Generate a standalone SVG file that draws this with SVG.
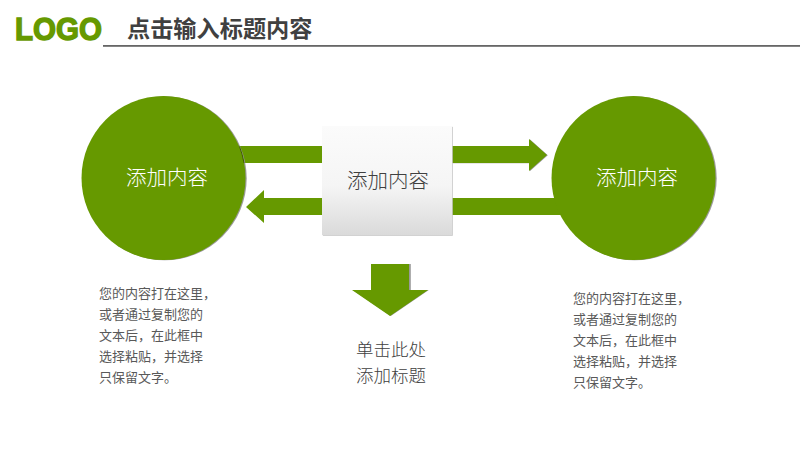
<svg xmlns="http://www.w3.org/2000/svg" width="800" height="450" viewBox="0 0 800 450">
<style>
text{font-family:"Noto Sans CJK SC","Liberation Sans",sans-serif}
.g{fill:#669900}
.s{fill:#9a9a9a}
.c{fill:#fff;font-size:20.500px;text-anchor:middle;font-weight:300}
.d{fill:#404040;font-size:20.500px;text-anchor:middle;font-weight:300}
.b{fill:#595959;font-size:13px;font-weight:400}
.t{fill:#404040;font-size:17.500px;font-weight:300}
</style>
<defs>
<linearGradient id="box" x1="0" y1="0" x2="0" y2="1">
<stop offset="0" stop-color="#fbfbfb"/>
<stop offset="0.55" stop-color="#f5f5f5"/>
<stop offset="1" stop-color="#dadada"/>
</linearGradient>
</defs>
<rect width="800" height="450" fill="#fff"/>
<g id="header">
<text x="15" y="40" font-size="31" font-weight="700" fill="#669900" stroke="#669900" stroke-width="1.400" style="font-family:'Liberation Sans',sans-serif" textLength="87" lengthAdjust="spacingAndGlyphs">LOGO</text>
<text x="127" y="37" font-size="23.200" font-weight="700" fill="#404040" style="font-family:'Noto Sans CJK SC',sans-serif">点击输入标题内容</text>
<rect x="103" y="45" width="697" height="1.800" fill="#666"/>
</g>
<g id="connectors">
<path d="M240 146H322V163H240Z" class="g"/>
<path d="M322 198H264V190L246 207L264 223V215H322Z" class="g"/>
<path d="M452 146H529V139L547 155L529 171V163H452Z" class="s" transform="translate(0.800 0.300)"/>
<path d="M452 146H529V139L547 155L529 171V163H452Z" class="g"/>
<path d="M452 198H570V215H452Z" class="g"/>
<path d="M371 264H410V290H428L390 316L352 290H371Z" class="s" transform="translate(0.800 0)"/>
<path d="M371 264H409V290H428L390 316L352 290H371Z" class="g"/>
</g>
<g id="node-left">
<circle cx="163.500" cy="178" r="82" class="s" transform="translate(1.200 0.300)"/>
<circle cx="163.500" cy="178" r="82" class="g"/>
<path d="M239.500 146.500A82 82 0 0 1 244 163" fill="none" stroke="#3f5f00" stroke-width="1"/>
<text x="167" y="185" class="c">添加内容</text>
</g>
<g id="node-right">
<circle cx="633.500" cy="178" r="82" class="s" transform="translate(1.200 0.300)"/>
<circle cx="633.500" cy="178" r="82" class="g"/>
<text x="637" y="185" class="c">添加内容</text>
</g>
<g id="node-center">
<rect x="322.800" y="126.800" width="130" height="109" fill="#c8c8c8"/>
<rect x="322" y="126" width="130" height="109" fill="url(#box)"/>
<text x="388" y="188" class="d">添加内容</text>
</g>
<g id="label-left">
<text x="99" y="298" class="b">您的内容打在这里，</text>
<text x="99" y="319" class="b">或者通过复制您的</text>
<text x="99" y="340" class="b">文本后，在此框中</text>
<text x="99" y="361" class="b">选择粘贴，并选择</text>
<text x="99" y="382" class="b">只保留文字。</text>
</g>
<g id="label-center">
<text x="391" y="356" class="t" text-anchor="middle">单击此处</text>
<text x="391" y="382" class="t" text-anchor="middle">添加标题</text>
</g>
<g id="label-right">
<text x="573" y="303" class="b">您的内容打在这里，</text>
<text x="573" y="324" class="b">或者通过复制您的</text>
<text x="573" y="345" class="b">文本后，在此框中</text>
<text x="573" y="366" class="b">选择粘贴，并选择</text>
<text x="573" y="387" class="b">只保留文字。</text>
</g>
</svg>
